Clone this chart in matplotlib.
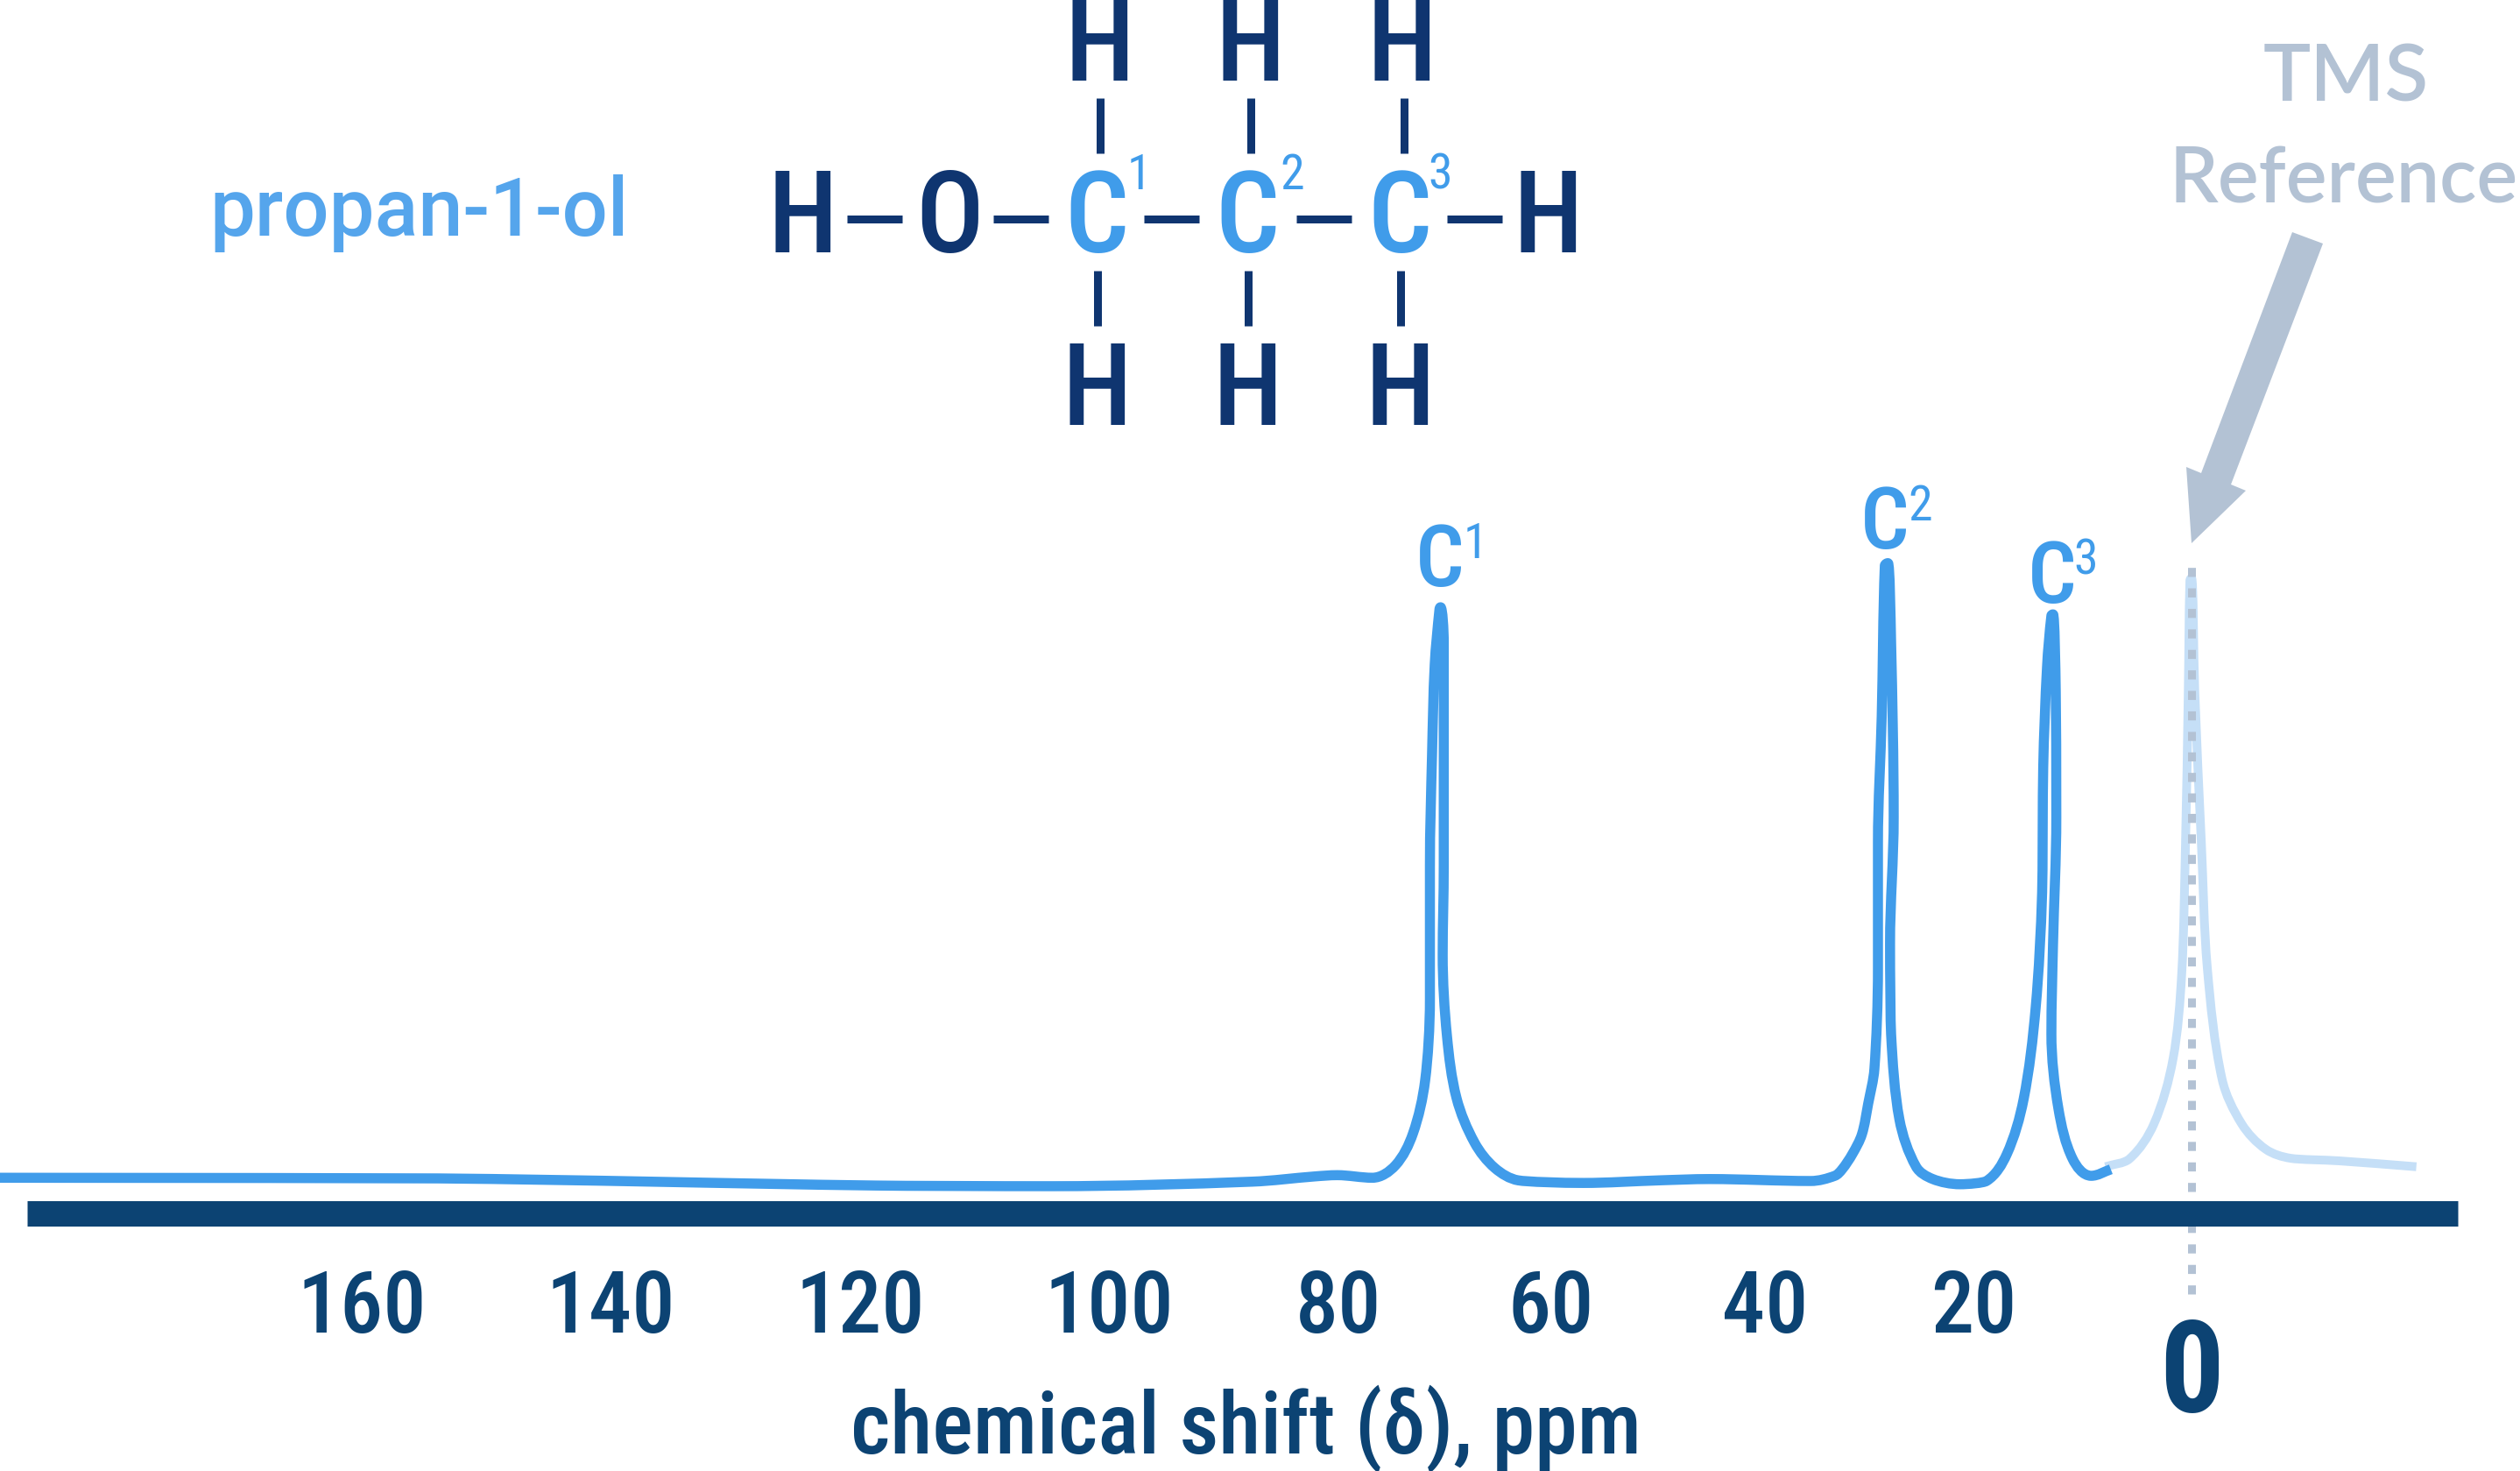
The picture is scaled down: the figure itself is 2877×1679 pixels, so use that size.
import numpy as np
import matplotlib
matplotlib.use("Agg")
import matplotlib.pyplot as plt
from matplotlib.path import Path
from matplotlib.patches import PathPatch, Polygon
from matplotlib.ticker import NullLocator

# ---- data ----
tick_ppm = [160, 140, 120, 100, 80, 60, 40, 20, 0]
tick_labels = ["160", "140", "120", "100", "80", "60", "40", "20", "0"]

sample_ppm = [189.15, 153.9, 118.7, 104.6, 87.5, 82.1, 80.1, 76.8, 74.65, 73.0, 71.85, 71.4, 71.4, 71.2, 70.95, 70.5,
              70.4, 70.1, 70.1, 70.1, 70.2, 69.8, 68.9, 67.2, 65.3, 63.1, 57.0, 49.9, 45.2, 35.6, 33.3, 32.6, 31.6, 30.7, 30.1,
              29.5, 29.16, 29.16, 28.8, 28.5, 28.2, 27.9, 27.65, 28.0, 27.9, 27.1, 25.5, 23.9, 21.3, 18.8, 16.95,
              15.4, 14.3, 13.7, 13.6, 13.25, 12.85, 12.7, 12.45, 12.4, 12.7, 12.85, 12.2, 10.9, 9.2, 7.4]
sample_int = [5.5, 5.4, 4.3, 4.2, 4.9, 5.7, 5.9, 5.5, 7.4, 12.3, 20.5, 33.0, 53.6, 70.8, 84.6, 93.2,
              93.5, 88.1, 74.3, 53.6, 39.9, 27.4, 17.8, 10.9, 7.0, 5.1, 4.7, 5.1, 5.3, 5.0, 5.8, 6.8, 9.2, 12.2, 16.9,
              22.3, 37.8, 57.2, 76.6, 99.9, 100.3, 88.2, 61.1, 41.6, 27.7, 14.5, 7.2, 5.3, 4.5, 5.0, 9.1,
              17.6, 31.6, 49.5, 68.8, 84.3, 92.2, 92.4, 80.4, 61.1, 41.6, 27.7, 16.1, 8.4, 5.8, 6.8]

tms_ppm = [7.9, 5.7, 3.45, 1.7, 0.9, 0.55, 0.3, 0.15, 0.0, -0.3, -0.9, -1.45, -2.8, -4.6, -6.8, -9.1, -13.6, -20.6]
tms_int = [7.2, 8.4, 13.8, 23.8, 37.0, 57.2, 80.4, 97.6, 98.0, 80.4, 57.2, 37.8, 20.7, 13.8, 9.9, 8.5, 8.1, 7.2]

# the printed axis is not evenly spaced: ppm value -> horizontal position
scale_ppm = [-30.1, 0, 20, 40, 60, 80, 100, 120, 140, 160, 189.1]
scale_pos = [2877, 2502, 2253, 2015, 1771, 1528, 1266, 982, 697, 413, 0]

BLUE = "#409CEA"
PALE = "#C5DFF7"
AXIS = "#0C4373"
NAVY = "#0F3570"
GREY = "#B3C2D4"
COND = "Roboto Condensed"
W, H = 2877, 1679


def fwd(v):
    return -np.interp(v, scale_ppm, scale_pos)


def inv(p):
    return np.interp(-np.asarray(p), scale_pos[::-1], scale_ppm[::-1])


def px(n):
    return n * 0.72


fig = plt.figure(figsize=(W / 100, H / 100), dpi=100, facecolor="white")
ax = fig.add_axes([0, 0, 1, 1])
ax.set_xscale("function", functions=(fwd, inv))
ax.set_xlim(189.1, -30.1)
ax.set_ylim(-39.73, 187.16)
ax.patch.set_alpha(0)
for s in ("top", "left", "right"):
    ax.spines[s].set_visible(False)
ax.yaxis.set_visible(False)
sp = ax.spines["bottom"]
sp.set_position(("data", 0))
sp.set_bounds(-24.4, 186.9)
sp.set_linewidth(px(29))
sp.set_color(AXIS)
sp.set_capstyle("butt")
sp.set_zorder(5)
ax.set_xticks(tick_ppm)
ax.set_xticklabels(tick_labels, fontfamily=COND, fontweight=500, fontsize=px(98), color=AXIS)
ax.xaxis.set_minor_locator(NullLocator())
ax.tick_params(axis="x", length=0, pad=px(62))
ticks = ax.xaxis.get_major_ticks()
ticks[-1].set_pad(px(117))
ticks[-1].label1.set_fontsize(px(146))
ticks[-1].label1.set_fontweight(700)


def smooth(x, y):
    """Bezier through the read points; handles follow the neighbours and never pass the segment's extent."""
    pts = np.column_stack([x, y])
    sc = pts * np.array([12.2, 7.4])
    n = len(pts)
    tan = np.zeros_like(sc)
    for i in range(n):
        a = sc[max(i - 1, 0)]
        b = sc[min(i + 1, n - 1)]
        d = b - a
        if 0 < i < n - 1:
            for k in (0, 1):
                if (sc[i, k] - a[k]) * (b[k] - sc[i, k]) <= 0:
                    d[k] = 0
        nrm = np.hypot(*d)
        tan[i] = d / nrm if nrm else d

    def handle(t, seg):
        h = t * np.hypot(*seg) / 3
        f = 1.0
        for k in (0, 1):
            if abs(h[k]) > 1e-9:
                f = min(f, abs(seg[k]) * 0.6 / abs(h[k]))
        return h * f

    out = [sc[0]]
    codes = [Path.MOVETO]
    for i in range(n - 1):
        seg = sc[i + 1] - sc[i]
        out += [sc[i] + handle(tan[i], seg), sc[i + 1] - handle(tan[i + 1], seg), sc[i + 1]]
        codes += [Path.CURVE4] * 3
    return Path(np.array(out) / np.array([12.2, 7.4]), codes)


ax.vlines(0, -12.4, 99.7, color=GREY, lw=px(9), linestyles=[(0, (1.15, 1.45))], zorder=3, capstyle="butt")
ax.add_patch(PathPatch(smooth(tms_ppm, tms_int), fill=False, ec=PALE, lw=px(10), capstyle="butt", joinstyle="round", zorder=2))
ax.add_patch(PathPatch(smooth(sample_ppm, sample_int), fill=False, ec=BLUE, lw=px(11.5), capstyle="butt", joinstyle="round", zorder=4))

# ---- overlay in picture positions for the drawing and its captions ----
ov = fig.add_axes([0, 0, 1, 1])
ov.set_xlim(0, W)
ov.set_ylim(H, 0)
ov.axis("off")
ov.patch.set_alpha(0)


def T(x, y, s, size, color, ha="center", family=COND, weight=500):
    ov.text(x, y, s, fontsize=px(size), color=color, ha=ha, va="baseline", family=family, weight=weight)


for cx in (1255, 1427, 1600):
    T(cx, 92, "H", 129, NAVY)
for cx, s, c in [(916, "H", NAVY), (1084, "O", NAVY), (1252, "C", BLUE), (1424, "C", BLUE), (1598, "C", BLUE), (1767, "H", NAVY)]:
    T(cx, 288, s, 129, c)
for cx in (1252, 1424, 1598):
    T(cx, 485, "H", 129, NAVY)
for xl, s in [(1287, "1"), (1461, "2"), (1630, "3")]:
    T(xl, 216, s, 56, BLUE, ha="left", weight=400)

for x0, x1 in [(967, 1030), (1134, 1197), (1306, 1369), (1480, 1543), (1652, 1715)]:
    ov.plot([x0, x1], [249.5, 249.5], color=NAVY, lw=px(9), solid_capstyle="butt")
for cx in (1256, 1428, 1603):
    ov.plot([cx, cx], [112, 175], color=NAVY, lw=px(9), solid_capstyle="butt")
for cx in (1253, 1425, 1599):
    ov.plot([cx, cx], [309, 372], color=NAVY, lw=px(9), solid_capstyle="butt")

T(479, 269, "propan-1-ol", 92, "#55A5EC", family="Roboto")
T(1422, 1659, "chemical shift (δ), ppm", 98, AXIS)
T(2678, 116, "TMS", 91, GREY, family="Lato", weight=600)
T(2476, 231, "Reference", 88, GREY, ha="left", family="Lato", weight=600)

for xc, base, xs, sb, sup in [(1644, 669, 1671, 637, "1"), (2152, 626, 2178, 594, "2"), (2343, 688, 2367, 655, "3")]:
    T(xc, base, "C", 98, BLUE)
    T(xs, sb, sup, 56, BLUE, ha="left", weight=400)

ov.add_patch(Polygon([(2617, 265), (2652, 278), (2547, 553), (2564, 560), (2502, 620), (2496, 533), (2513, 540)],
                     closed=True, fc=GREY, ec="none"))

fig.savefig("out.png", dpi=100, facecolor="white")
